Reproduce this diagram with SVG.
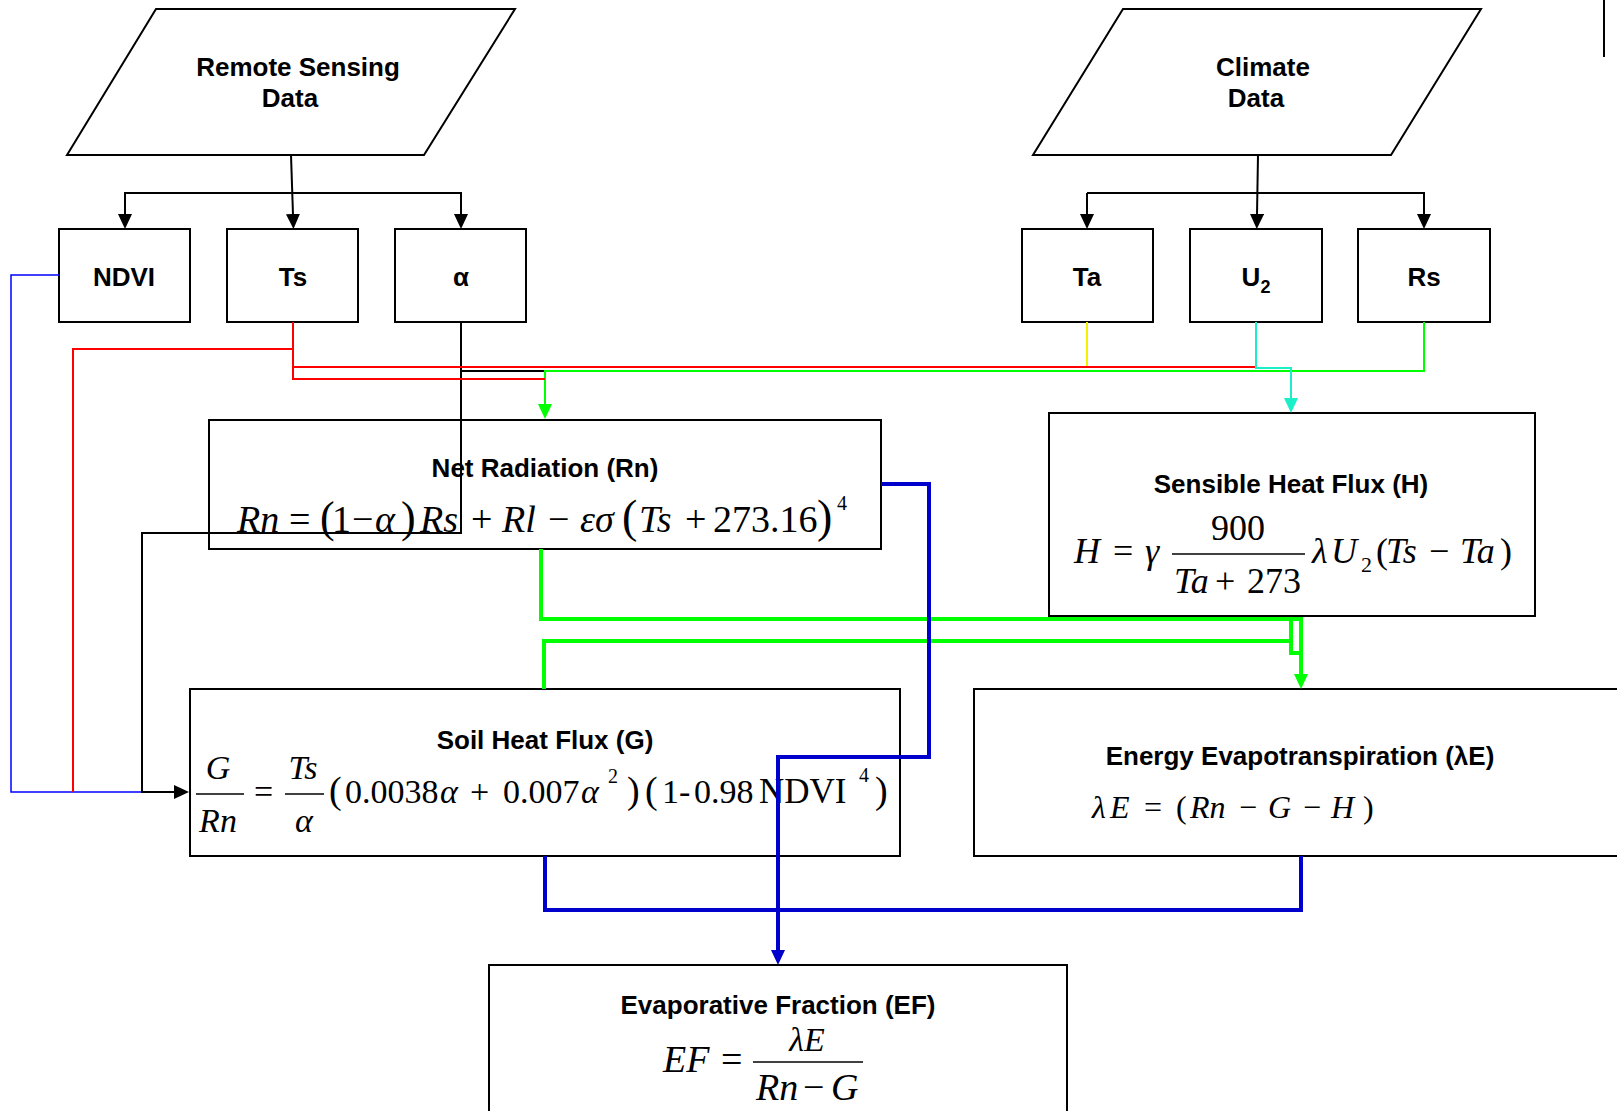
<svg xmlns="http://www.w3.org/2000/svg" width="1617" height="1111" viewBox="0 0 1617 1111">
<style>
.box{fill:#fff;stroke:#000;stroke-width:2}
.lb{font-family:"Liberation Sans",Arial,sans-serif;font-weight:bold;font-size:26px;text-anchor:middle;fill:#000}
.eq{font-family:"Liberation Serif","Times New Roman",serif;fill:#000}
.i{font-style:italic}
.fl{stroke:#000;stroke-width:1.5}
.c{fill:none;stroke-linejoin:miter}
.k{stroke:#000;stroke-width:2}
.r{stroke:#ff0000;stroke-width:2}
.y{stroke:#f2f200;stroke-width:2}
.cy{stroke:#19f0c8;stroke-width:2}
.g{stroke:#00ff00;stroke-width:2}
.G{stroke:#00ff00;stroke-width:4}
.B{stroke:#0000cc;stroke-width:4}
.b{stroke:#0000ff;stroke-width:1.5}
</style>
<defs>
<marker id="ak" markerWidth="15" markerHeight="14" refX="1" refY="7" orient="auto" markerUnits="userSpaceOnUse"><path d="M0,0 L15,7 L0,14 Z" fill="#000"/></marker>
<marker id="ag" markerWidth="15" markerHeight="14" refX="1" refY="7" orient="auto" markerUnits="userSpaceOnUse"><path d="M0,0 L15,7 L0,14 Z" fill="#00ff00"/></marker>
<marker id="ac" markerWidth="15" markerHeight="14" refX="1" refY="7" orient="auto" markerUnits="userSpaceOnUse"><path d="M0,0 L15,7 L0,14 Z" fill="#19f0c8"/></marker>
<marker id="ab" markerWidth="15" markerHeight="14" refX="1" refY="7" orient="auto" markerUnits="userSpaceOnUse"><path d="M0,0 L15,7 L0,14 Z" fill="#0000cc"/></marker>
</defs>
<rect width="1617" height="1111" fill="#fff"/>

<g id="nodes">
<g id="remote-sensing-data">
<polygon class="box" points="156,9 515,9 424,155 67,155"/>
<text class="lb" x="298" y="76">Remote Sensing</text>
<text class="lb" x="290" y="107">Data</text>
</g>
<g id="climate-data">
<polygon class="box" points="1123,9 1481,9 1391,155 1033,155"/>
<text class="lb" x="1263" y="76">Climate</text>
<text class="lb" x="1256" y="107">Data</text>
</g>
<g id="ndvi"><rect class="box" x="59" y="229" width="131" height="93"/><text class="lb" x="124" y="286">NDVI</text></g>
<g id="ts"><rect class="box" x="227" y="229" width="131" height="93"/><text class="lb" x="293" y="286">Ts</text></g>
<g id="alpha"><rect class="box" x="395" y="229" width="131" height="93"/><text class="lb" x="461" y="286" font-size="28">α</text></g>
<g id="ta"><rect class="box" x="1022" y="229" width="131" height="93"/><text class="lb" x="1087" y="286">Ta</text></g>
<g id="u2"><rect class="box" x="1190" y="229" width="132" height="93"/><text class="lb" x="1256" y="286">U<tspan font-size="18" dy="7">2</tspan></text></g>
<g id="rs"><rect class="box" x="1358" y="229" width="132" height="93"/><text class="lb" x="1424" y="286">Rs</text></g>

<g id="net-radiation">
<rect class="box" x="209" y="420" width="672" height="129"/>
<text class="lb" x="545" y="477">Net Radiation (Rn)</text>
<text class="eq" y="532" font-size="38"><tspan x="237" class="i">Rn</tspan><tspan x="289">=</tspan><tspan x="320" font-size="44">(</tspan><tspan x="332">1</tspan><tspan x="352">−</tspan><tspan x="375" class="i">α</tspan><tspan x="401" font-size="44">)</tspan><tspan x="420" class="i">Rs</tspan><tspan x="471">+</tspan><tspan x="502" class="i">Rl</tspan><tspan x="548">−</tspan><tspan x="580" class="i">εσ</tspan><tspan x="622" font-size="46">(</tspan><tspan x="639" class="i">Ts</tspan><tspan x="685">+</tspan><tspan x="713">273.16</tspan><tspan x="817" font-size="46">)</tspan></text>
<text class="eq" x="837" y="510" font-size="20">4</text>
</g>

<g id="sensible-heat-flux">
<rect class="box" x="1049" y="413" width="486" height="203"/>
<text class="lb" x="1291" y="493">Sensible Heat Flux (H)</text>
<text class="eq" y="563" font-size="36"><tspan x="1074" class="i">H</tspan><tspan x="1113">=</tspan><tspan x="1145" class="i">γ</tspan><tspan x="1312" class="i">λ</tspan><tspan x="1331" class="i">U</tspan><tspan x="1376">(</tspan><tspan x="1386" class="i">Ts</tspan><tspan x="1429">−</tspan><tspan x="1460" class="i">Ta</tspan><tspan x="1500">)</tspan></text>
<text class="eq" x="1361" y="572" font-size="22">2</text>
<text class="eq" x="1238" y="540" font-size="36" text-anchor="middle">900</text>
<line class="fl" x1="1172" y1="554" x2="1305" y2="554"/>
<text class="eq" y="593" font-size="36"><tspan x="1174" class="i">Ta</tspan><tspan x="1215">+</tspan><tspan x="1247">273</tspan></text>
</g>

<g id="soil-heat-flux">
<rect class="box" x="190" y="689" width="710" height="167"/>
<text class="lb" x="545" y="749">Soil Heat Flux (G)</text>
<text class="eq i" x="218" y="779" font-size="34" text-anchor="middle">G</text>
<line class="fl" x1="196" y1="794" x2="244" y2="794"/>
<text class="eq i" x="218" y="832" font-size="34" text-anchor="middle">Rn</text>
<text class="eq" x="254" y="803" font-size="34">=</text>
<text class="eq i" x="303" y="779" font-size="34" text-anchor="middle">Ts</text>
<line class="fl" x1="285" y1="794" x2="324" y2="794"/>
<text class="eq i" x="304" y="832" font-size="34" text-anchor="middle">α</text>
<text class="eq" y="803" font-size="34"><tspan x="329" font-size="38">(</tspan><tspan x="345">0.0038</tspan><tspan x="440" class="i">α</tspan><tspan x="470">+</tspan><tspan x="503">0.007</tspan><tspan x="581" class="i">α</tspan><tspan x="627" font-size="38">)</tspan><tspan x="645" font-size="38">(</tspan><tspan x="662">1</tspan><tspan x="679">-</tspan><tspan x="694">0.98</tspan><tspan x="759" font-size="35">NDVI</tspan><tspan x="875" font-size="38">)</tspan></text>
<text class="eq" x="608" y="783" font-size="20">2</text>
<text class="eq" x="859" y="782" font-size="20">4</text>
</g>

<g id="energy-evapotranspiration">
<rect class="box" x="974" y="689" width="660" height="167"/>
<text class="lb" x="1300" y="765">Energy Evapotranspiration (λE)</text>
<text class="eq" y="818" font-size="32"><tspan x="1092" class="i">λ</tspan><tspan x="1110" class="i">E</tspan><tspan x="1144">=</tspan><tspan x="1176">(</tspan><tspan x="1190" class="i">Rn</tspan><tspan x="1239">−</tspan><tspan x="1268" class="i">G</tspan><tspan x="1303">−</tspan><tspan x="1331" class="i">H</tspan><tspan x="1363">)</tspan></text>
</g>

<g id="evaporative-fraction">
<rect class="box" x="489" y="965" width="578" height="170"/>
<text class="lb" x="778" y="1014">Evaporative Fraction (EF)</text>
<text class="eq i" x="663" y="1072" font-size="38">EF</text>
<text class="eq" x="721" y="1072" font-size="38">=</text>
<text class="eq i" x="807" y="1051" font-size="34" text-anchor="middle">λE</text>
<line class="fl" x1="753" y1="1062" x2="863" y2="1062"/>
<text class="eq" y="1100" font-size="38"><tspan x="756" class="i">Rn</tspan><tspan x="803">−</tspan><tspan x="831" class="i">G</tspan></text>
</g>
</g>

<g id="connectors">
<path class="c k" d="M291,155 L293,215" marker-end="url(#ak)"/>
<path class="c k" d="M125,215 V193 H461 V215" marker-end="url(#ak)"/>
<path class="c k" d="M125,193 V215" marker-end="url(#ak)"/>
<path class="c k" d="M1258,155 L1257,215" marker-end="url(#ak)"/>
<path class="c k" d="M1087,193 H1424 V215" marker-end="url(#ak)"/>
<path class="c k" d="M1087,193 V215" marker-end="url(#ak)"/>

<path class="c b" d="M59,275 H11 V792 H142"/>
<path class="c r" d="M293,349 H73 V792"/>
<path class="c k" d="M461,322 V533 H142 V792 H175" marker-end="url(#ak)"/>
<path class="c k" d="M461,371 H545"/>
<path class="c g" d="M1424,322 V371 H545 V405" marker-end="url(#ag)"/>
<path class="c r" d="M293,322 V379 H545"/>
<path class="c r" d="M293,367 H1256"/>
<path class="c y" d="M1087,322 V366"/>
<path class="c cy" d="M1256,322 V368 H1291 V399" marker-end="url(#ac)"/>

<path class="c G" d="M541,549 V619 H1301 V675" marker-end="url(#ag)"/>
<path class="c G" d="M544,689 V641 H1291 V653 H1301"/>
<path class="c G" d="M1291,619 V641"/>

<path class="c B" d="M881,484 H929 V757 H778 V951" marker-end="url(#ab)"/>
<path class="c B" d="M545,856 V910 H1301 V856"/>
</g>

<line id="edge-mark" x1="1604" y1="0" x2="1604" y2="57" stroke="#000" stroke-width="2"/>
</svg>
